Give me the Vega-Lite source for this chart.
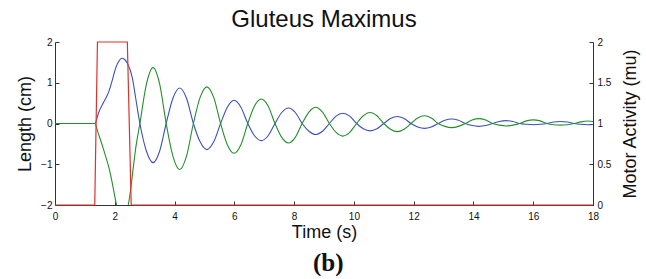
{
  "$schema": "https://vega.github.io/schema/vega-lite/v6.json",
  "padding": {"left": 16, "top": 8, "right": 1, "bottom": 0},
  "background": "white",
  "config": {
    "view": {"stroke": null},
    "axis": {
      "labelFont": "Liberation Sans",
      "titleFont": "Liberation Sans",
      "labelFontSize": 10,
      "titleFontSize": 18,
      "titleFontWeight": "normal",
      "labelColor": "#111111",
      "titleColor": "#111111",
      "domainColor": "#333333",
      "tickColor": "#333333",
      "grid": false,
      "tickSize": -4,
      "labelPadding": 7,
      "labelFlush": false
    }
  },
  "title": {
    "text": "(b)",
    "orient": "bottom",
    "anchor": "middle",
    "font": "Liberation Serif",
    "fontWeight": "bold",
    "fontSize": 25,
    "color": "#111111",
    "offset": 10
  },
  "datasets": {
    "length": [
      {"t":0,"v":0,"s":"blue"},{"t":1.33,"v":0,"s":"blue"},{"t":1.47,"v":0.29,"s":"blue"},{"t":1.64,"v":0.54,"s":"blue"},{"t":1.81,"v":0.8,"s":"blue"},{"t":1.92,"v":1.07,"s":"blue"},{"t":2.03,"v":1.36,"s":"blue"},{"t":2.13,"v":1.52,"s":"blue"},{"t":2.23,"v":1.6,"s":"blue"},{"t":2.33,"v":1.57,"s":"blue"},{"t":2.42,"v":1.48,"s":"blue"},{"t":2.52,"v":1.3,"s":"blue"},{"t":2.59,"v":1.11,"s":"blue"},{"t":2.7,"v":0.62,"s":"blue"},{"t":2.84,"v":0,"s":"blue"},
      {"t":3.06,"v":-0.68,"s":"blue"},{"t":3.28,"v":-0.96,"s":"blue"},{"t":3.5,"v":-0.68,"s":"blue"},{"t":3.72,"v":0,"s":"blue"},
      {"t":3.945,"v":0.62,"s":"blue"},{"t":4.17,"v":0.87,"s":"blue"},{"t":4.4,"v":0.62,"s":"blue"},{"t":4.63,"v":0,"s":"blue"},
      {"t":4.855,"v":-0.45,"s":"blue"},{"t":5.08,"v":-0.64,"s":"blue"},{"t":5.31,"v":-0.45,"s":"blue"},{"t":5.54,"v":0,"s":"blue"},
      {"t":5.765,"v":0.4,"s":"blue"},{"t":5.99,"v":0.57,"s":"blue"},{"t":6.22,"v":0.4,"s":"blue"},{"t":6.45,"v":0,"s":"blue"},
      {"t":6.675,"v":-0.3,"s":"blue"},{"t":6.9,"v":-0.42,"s":"blue"},{"t":7.13,"v":-0.3,"s":"blue"},{"t":7.36,"v":0,"s":"blue"},
      {"t":7.585,"v":0.27,"s":"blue"},{"t":7.81,"v":0.38,"s":"blue"},{"t":8.04,"v":0.27,"s":"blue"},{"t":8.27,"v":0,"s":"blue"},
      {"t":8.495,"v":-0.19,"s":"blue"},{"t":8.72,"v":-0.27,"s":"blue"},{"t":8.95,"v":-0.19,"s":"blue"},{"t":9.18,"v":0,"s":"blue"},
      {"t":9.405,"v":0.18,"s":"blue"},{"t":9.63,"v":0.25,"s":"blue"},{"t":9.86,"v":0.18,"s":"blue"},{"t":10.09,"v":0,"s":"blue"},
      {"t":10.315,"v":-0.13,"s":"blue"},{"t":10.54,"v":-0.18,"s":"blue"},{"t":10.77,"v":-0.13,"s":"blue"},{"t":11.0,"v":0,"s":"blue"},
      {"t":11.225,"v":0.12,"s":"blue"},{"t":11.45,"v":0.17,"s":"blue"},{"t":11.68,"v":0.12,"s":"blue"},{"t":11.91,"v":0,"s":"blue"},
      {"t":12.135,"v":-0.085,"s":"blue"},{"t":12.36,"v":-0.12,"s":"blue"},{"t":12.59,"v":-0.085,"s":"blue"},{"t":12.82,"v":0,"s":"blue"},
      {"t":13.045,"v":0.08,"s":"blue"},{"t":13.27,"v":0.11,"s":"blue"},{"t":13.5,"v":0.08,"s":"blue"},{"t":13.73,"v":0,"s":"blue"},
      {"t":13.955,"v":-0.05,"s":"blue"},{"t":14.18,"v":-0.07,"s":"blue"},{"t":14.41,"v":-0.05,"s":"blue"},{"t":14.64,"v":0,"s":"blue"},
      {"t":14.865,"v":0.05,"s":"blue"},{"t":15.09,"v":0.07,"s":"blue"},{"t":15.32,"v":0.05,"s":"blue"},{"t":15.55,"v":0,"s":"blue"},
      {"t":15.775,"v":-0.02,"s":"blue"},{"t":16.0,"v":-0.03,"s":"blue"},{"t":16.23,"v":-0.02,"s":"blue"},{"t":16.46,"v":0,"s":"blue"},
      {"t":16.685,"v":0.035,"s":"blue"},{"t":16.91,"v":0.05,"s":"blue"},{"t":17.14,"v":0.035,"s":"blue"},{"t":17.37,"v":0,"s":"blue"},
      {"t":17.595,"v":-0.02,"s":"blue"},{"t":17.82,"v":-0.03,"s":"blue"},{"t":18.0,"v":-0.025,"s":"blue"},
      {"t":0,"v":0,"s":"green"},{"t":1.33,"v":0,"s":"green"},{"t":1.45,"v":-0.25,"s":"green"},{"t":1.58,"v":-0.53,"s":"green"},{"t":1.7,"v":-0.82,"s":"green"},{"t":1.81,"v":-1.1,"s":"green"},{"t":1.9,"v":-1.4,"s":"green"},{"t":1.97,"v":-1.67,"s":"green"},{"t":2.06,"v":-2.0,"s":"green"},{"t":2.15,"v":-2.22,"s":"green"},{"t":2.25,"v":-2.3,"s":"green"},{"t":2.35,"v":-2.22,"s":"green"},{"t":2.45,"v":-2.0,"s":"green"},{"t":2.52,"v":-1.68,"s":"green"},{"t":2.59,"v":-1.26,"s":"green"},{"t":2.7,"v":-0.61,"s":"green"},{"t":2.84,"v":0,"s":"green"},
      {"t":3.06,"v":0.97,"s":"green"},{"t":3.28,"v":1.37,"s":"green"},{"t":3.5,"v":0.97,"s":"green"},{"t":3.72,"v":0,"s":"green"},
      {"t":3.945,"v":-0.8,"s":"green"},{"t":4.17,"v":-1.13,"s":"green"},{"t":4.4,"v":-0.8,"s":"green"},{"t":4.63,"v":0,"s":"green"},
      {"t":4.855,"v":0.64,"s":"green"},{"t":5.08,"v":0.9,"s":"green"},{"t":5.31,"v":0.64,"s":"green"},{"t":5.54,"v":0,"s":"green"},
      {"t":5.765,"v":-0.52,"s":"green"},{"t":5.99,"v":-0.73,"s":"green"},{"t":6.22,"v":-0.52,"s":"green"},{"t":6.45,"v":0,"s":"green"},
      {"t":6.675,"v":0.43,"s":"green"},{"t":6.9,"v":0.6,"s":"green"},{"t":7.13,"v":0.43,"s":"green"},{"t":7.36,"v":0,"s":"green"},
      {"t":7.585,"v":-0.34,"s":"green"},{"t":7.81,"v":-0.48,"s":"green"},{"t":8.04,"v":-0.34,"s":"green"},{"t":8.27,"v":0,"s":"green"},
      {"t":8.495,"v":0.28,"s":"green"},{"t":8.72,"v":0.4,"s":"green"},{"t":8.95,"v":0.28,"s":"green"},{"t":9.18,"v":0,"s":"green"},
      {"t":9.405,"v":-0.22,"s":"green"},{"t":9.63,"v":-0.31,"s":"green"},{"t":9.86,"v":-0.22,"s":"green"},{"t":10.09,"v":0,"s":"green"},
      {"t":10.315,"v":0.19,"s":"green"},{"t":10.54,"v":0.27,"s":"green"},{"t":10.77,"v":0.19,"s":"green"},{"t":11.0,"v":0,"s":"green"},
      {"t":11.225,"v":-0.14,"s":"green"},{"t":11.45,"v":-0.2,"s":"green"},{"t":11.68,"v":-0.14,"s":"green"},{"t":11.91,"v":0,"s":"green"},
      {"t":12.135,"v":0.135,"s":"green"},{"t":12.36,"v":0.19,"s":"green"},{"t":12.59,"v":0.135,"s":"green"},{"t":12.82,"v":0,"s":"green"},
      {"t":13.045,"v":-0.07,"s":"green"},{"t":13.27,"v":-0.1,"s":"green"},{"t":13.5,"v":-0.07,"s":"green"},{"t":13.73,"v":0,"s":"green"},
      {"t":13.955,"v":0.085,"s":"green"},{"t":14.18,"v":0.12,"s":"green"},{"t":14.41,"v":0.085,"s":"green"},{"t":14.64,"v":0,"s":"green"},
      {"t":14.865,"v":-0.04,"s":"green"},{"t":15.09,"v":-0.06,"s":"green"},{"t":15.32,"v":-0.04,"s":"green"},{"t":15.55,"v":0,"s":"green"},
      {"t":15.775,"v":0.065,"s":"green"},{"t":16.0,"v":0.09,"s":"green"},{"t":16.23,"v":0.065,"s":"green"},{"t":16.46,"v":0,"s":"green"},
      {"t":16.685,"v":-0.03,"s":"green"},{"t":16.91,"v":-0.04,"s":"green"},{"t":17.14,"v":-0.03,"s":"green"},{"t":17.37,"v":0,"s":"green"},
      {"t":17.595,"v":0.04,"s":"green"},{"t":17.82,"v":0.06,"s":"green"},{"t":18.0,"v":0.05,"s":"green"}
    ],
    "motor": [
      {"t":0,"m":0},{"t":1.33,"m":0},{"t":1.42,"m":2},{"t":2.42,"m":2},{"t":2.55,"m":0},{"t":18,"m":0}
    ]
  },
  "vconcat": [
    {
      "width": 538,
      "height": 163,
      "title": {
        "text": "Gluteus Maximus",
        "anchor": "middle",
        "frame": "group",
        "font": "Liberation Sans",
        "fontSize": 24,
        "fontWeight": "normal",
        "color": "#111111",
        "baseline": "alphabetic",
        "offset": -14
      },
      "layer": [
        {
          "data": {"name": "length"},
          "mark": {"type": "line", "clip": true, "interpolate": "monotone", "strokeWidth": 1.1},
          "encoding": {
            "x": {
              "field": "t", "type": "quantitative",
              "scale": {"domain": [0, 18], "nice": false, "zero": false},
              "axis": {"values": [0,2,4,6,8,10,12,14,16,18], "title": "Time (s)", "titlePadding": 2, "labelPadding": 10}
            },
            "y": {
              "field": "v", "type": "quantitative",
              "scale": {"domain": [-2, 2], "nice": false},
              "axis": {"values": [-2,-1,0,1,2], "title": "Length (cm)", "titlePadding": 6}
            },
            "color": {
              "field": "s", "type": "nominal",
              "scale": {"domain": ["blue", "green"], "range": ["#3b4fbf", "#23902a"]},
              "legend": null
            }
          }
        },
        {
          "data": {"name": "motor"},
          "mark": {"type": "line", "color": "#e0302a", "strokeWidth": 1.2},
          "encoding": {
            "x": {"field": "t", "type": "quantitative"},
            "y": {
              "field": "m", "type": "quantitative",
              "scale": {"domain": [0, 2], "nice": false},
              "axis": {"orient": "right", "values": [0,0.5,1,1.5,2], "format": "~g", "title": "Motor Activity (mu)", "titleAngle": 270, "titleBaseline": "top", "titlePadding": 11, "labelPadding": 8}
            }
          }
        }
      ],
      "resolve": {"scale": {"y": "independent"}}
    }
  ]
}
